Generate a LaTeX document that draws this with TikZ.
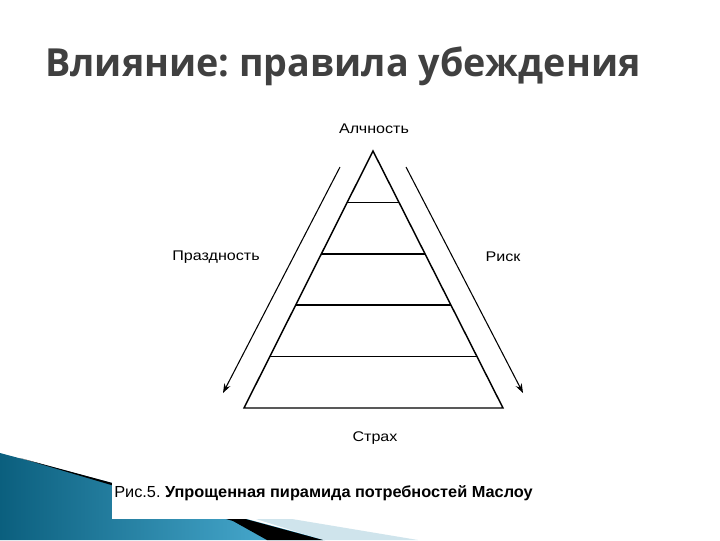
\documentclass[tikz,border=0pt]{standalone}
\usepackage{fontspec}
\setmainfont{Liberation Sans}
\newfontfamily\titlefont{Open Sans}
\usetikzlibrary{arrows.meta, calc}
\definecolor{titlegray}{HTML}{404040}
\definecolor{deepteal}{HTML}{0B5F7E}
\definecolor{skyteal}{HTML}{52B6DC}
\definecolor{paleblue}{HTML}{CFE4EC}
\newcommand{\stretchx}[2][1.15]{\scalebox{#1}[1]{#2}}
\frenchspacing

\begin{document}
\begin{tikzpicture}[x=0.75pt, y=-0.75pt,
    lbl/.style={font=\fontsize{10.5}{12}\selectfont, inner sep=0pt},
    tier/.style={line width=1.1pt},
    flow/.style={line width=0.8pt, -{Stealth[length=7pt, width=5pt]}}]
    \useasboundingbox (0,0) rectangle (720,540);
    \fill[white] (0,0) rectangle (720,540);
    \shade[left color=deepteal, right color=skyteal] (0,453) -- (325,540) -- (0,540) -- cycle;
    \fill[paleblue] (256,519) -- (292,519) -- (418,540) -- (323,540) -- cycle;
    \fill[black] (20,458) -- (323,540) -- (267,540) -- (233,521) -- cycle;
    \fill[white] (112,470) rectangle (545,519);
    \node[anchor=base west, inner sep=0pt, text=titlegray, font=\titlefont\bfseries\fontsize{29}{36}\selectfont] (title) at (45,76) {\stretchx[0.975]{Влияние: правила убеждения}};
    \coordinate (apex) at (373,151);
    \coordinate (bl) at (244,408);
    \coordinate (br) at (503,408);
    \draw[tier, line join=miter] (bl) -- (apex) -- (br) -- cycle;
    \foreach \t in {0.2,0.4,0.6,0.8}
        \draw[tier] ($(apex)!\t!(bl)$) -- ($(apex)!\t!(br)$);
    \coordinate (idlestart) at (340,167);
    \coordinate (idleend) at (223,393);
    \coordinate (riskstart) at (406,167);
    \coordinate (riskend) at (523,393);
    \draw[flow] (idlestart) -- (idleend);
    \draw[flow] (riskstart) -- (riskend);
    \node[lbl] (greed) at (374,129) {\stretchx{Алчность}};
    \node[lbl] (idle) at (216,257) {\stretchx{Праздность}};
    \node[lbl] (risk) at (503,257) {\stretchx{Риск}};
    \node[lbl] (fear) at (375,438) {\stretchx{Страх}};
    \node[anchor=base west, inner sep=0pt, font=\fontsize{12}{14}\selectfont] (caption) at (114,497) {\stretchx[1.02]{Рис.5. \textbf{Упрощенная пирамида потребностей Маслоу}}};
\end{tikzpicture}
\end{document}
